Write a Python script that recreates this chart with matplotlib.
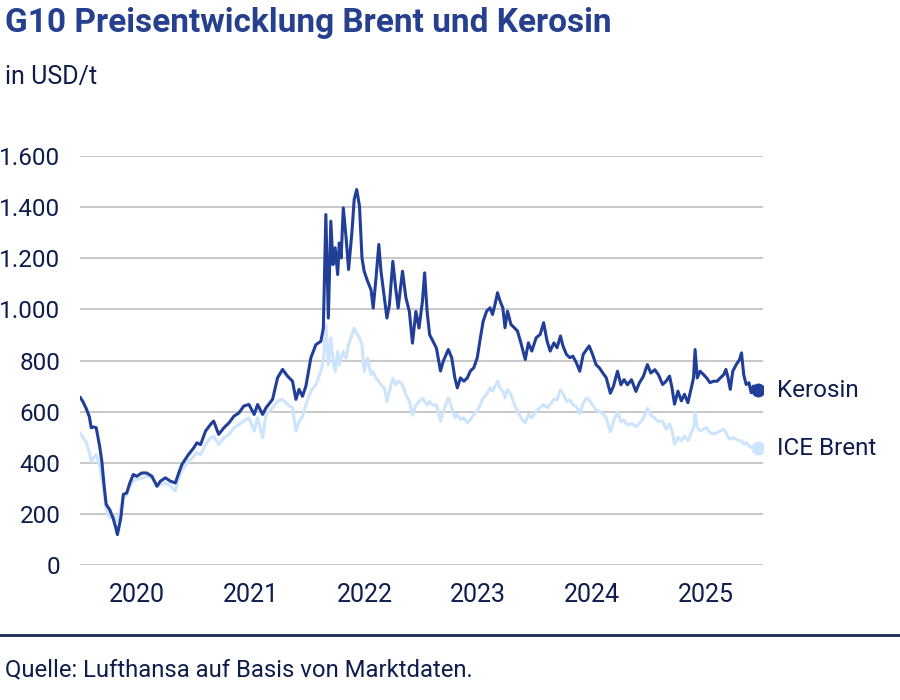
import pandas as pd
import matplotlib
matplotlib.use("Agg")
import matplotlib.pyplot as plt
from matplotlib.lines import Line2D

plt.rcParams["font.family"] = ["Roboto", "DejaVu Sans"]

# Werte (USD/t)
daten = [
    "2020-01-02", "2020-01-10", "2020-01-21", "2020-01-31", "2020-02-06", "2020-02-14", "2020-02-22",
    "2020-03-04", "2020-03-11", "2020-03-18", "2020-03-25", "2020-04-05", "2020-04-16", "2020-04-24",
    "2020-04-30", "2020-05-11", "2020-05-19", "2020-05-30", "2020-06-09", "2020-06-20", "2020-07-01",
    "2020-07-17", "2020-08-02", "2020-08-19", "2020-09-04", "2020-09-15", "2020-10-01", "2020-10-17",
    "2020-11-02", "2020-11-13", "2020-11-23", "2020-12-14", "2020-12-31", "2021-01-10",
    "2021-01-22", "2021-02-07", "2021-02-23", "2021-03-05", "2021-03-21", "2021-04-07", "2021-04-23",
    "2021-05-09", "2021-05-25", "2021-06-10", "2021-06-26", "2021-07-13", "2021-07-24", "2021-08-09",
    "2021-08-20", "2021-09-10", "2021-09-26", "2021-10-12", "2021-10-28", "2021-11-13", "2021-11-24",
    "2021-12-04", "2021-12-15", "2021-12-26", "2022-01-11",
    "2022-01-27", "2022-02-12", "2022-02-20", "2022-02-28", "2022-03-08", "2022-03-16", "2022-03-23",
    "2022-03-30", "2022-04-07", "2022-04-12", "2022-04-18", "2022-04-25", "2022-05-04", "2022-05-12",
    "2022-05-23", "2022-05-30", "2022-06-07", "2022-06-16", "2022-06-24", "2022-07-01", "2022-07-12",
    "2022-07-23", "2022-07-30", "2022-08-08", "2022-08-17", "2022-08-24", "2022-09-04", "2022-09-12",
    "2022-09-20", "2022-10-01", "2022-10-10", "2022-10-18", "2022-11-01", "2022-11-12", "2022-11-23",
    "2022-12-03", "2022-12-14", "2022-12-24", "2023-01-04", "2023-01-11", "2023-01-19", "2023-01-27",
    "2023-02-07", "2023-02-18",
    "2023-03-03", "2023-03-12", "2023-03-28", "2023-04-08", "2023-04-18", "2023-04-26", "2023-05-06",
    "2023-05-17", "2023-05-28", "2023-06-07", "2023-06-18", "2023-06-29", "2023-07-09", "2023-07-18",
    "2023-07-29", "2023-08-09", "2023-08-17", "2023-08-25", "2023-09-02", "2023-09-10", "2023-09-19",
    "2023-09-26", "2023-10-04", "2023-10-15", "2023-10-26", "2023-11-05", "2023-11-16", "2023-11-30",
    "2023-12-10", "2023-12-21", "2024-01-04", "2024-01-17", "2024-01-28", "2024-02-08", "2024-02-18",
    "2024-03-01",
    "2024-03-11", "2024-03-22", "2024-03-30", "2024-04-10", "2024-04-21", "2024-05-01", "2024-05-12",
    "2024-05-23", "2024-06-03", "2024-06-14", "2024-06-22", "2024-07-03", "2024-07-14", "2024-07-25",
    "2024-08-05", "2024-08-16", "2024-08-29", "2024-09-08", "2024-09-21", "2024-10-02", "2024-10-12",
    "2024-10-23", "2024-11-05", "2024-11-19", "2024-11-30", "2024-12-13", "2024-12-26", "2025-01-06",
    "2025-01-19", "2025-01-30",
    "2025-02-13", "2025-02-24", "2025-03-07", "2025-03-15", "2025-03-23", "2025-04-03", "2025-04-14",
    "2025-04-24", "2025-05-05", "2025-05-16", "2025-05-23", "2025-05-28", "2025-06-04", "2025-06-13",
    "2025-06-24", "2025-07-04", "2025-07-15", "2025-07-26", "2025-08-07", "2025-08-17", "2025-08-28",
    "2025-09-04", "2025-09-11", "2025-09-18", "2025-09-26", "2025-10-07", "2025-10-18", "2025-10-24",
    "2025-10-31", "2025-11-08", "2025-11-17", "2025-11-24", "2025-12-01", "2025-12-15",
]

kerosin = [
    655, 640, 612, 580, 537, 540, 537,
    465, 406, 315, 237, 217, 184, 150,
    119, 184, 276, 282, 321, 354, 347,
    360, 360, 347, 308, 328, 341, 328,
    321, 360, 393, 432, 458, 478,
    471, 524, 550, 563, 511, 537, 556,
    582, 595, 622, 628, 589, 628, 589,
    615, 648, 732, 765, 739, 719, 648,
    687, 660, 700, 811,
    862, 875, 927, 1371, 966, 1345, 1175,
    1241, 1136, 1260, 1201, 1397, 1280, 1156,
    1306, 1430, 1469, 1404, 1201, 1149, 1110,
    1077, 1005, 1123, 1254, 1149, 1045, 966,
    1018, 1188, 1084, 1005, 1149, 1045, 992,
    868, 992, 927, 1031, 1143, 992, 901,
    875, 848,
    759, 798, 843, 811, 732, 693, 732,
    719, 732, 759, 772, 811, 889, 954,
    993, 1006, 980, 1020, 1065, 1033, 1006,
    928, 993, 941, 928, 915, 869, 804,
    869, 837, 889, 902, 948, 876, 837,
    869,
    850, 896, 857, 824, 811, 817, 791,
    758, 824, 843, 857, 824, 784, 771,
    751, 732, 672, 699, 758, 705, 725,
    705, 725, 679, 712, 738, 784, 751,
    764, 745,
    706, 719, 739, 693, 629, 680, 642,
    668, 635, 693, 732, 843, 732, 758,
    745, 732, 713, 719, 719, 732, 745,
    765, 732, 687, 758, 784, 804, 830,
    745, 706, 713, 674, 700, 683,
]

brent = [
    515, 500, 480, 440, 405, 420, 432,
    390, 340, 290, 215, 184, 197, 180,
    171, 224, 262, 276, 310, 328, 334,
    340, 347, 341, 308, 315, 321, 310,
    289, 340, 370, 405, 425, 440,
    432, 471, 498, 504, 471, 498, 511,
    537, 550, 563, 576, 524, 576, 498,
    589, 615, 641, 648, 628, 615, 524,
    560, 580, 628, 680,
    705, 757, 800, 940, 783, 888, 800,
    757, 835, 783, 810, 835, 809, 862,
    901, 927, 905, 888, 862, 757, 809,
    744, 757, 730, 718, 705, 692, 639,
    679, 731, 705, 720, 705, 666, 640,
    587, 626, 639, 652, 640, 626, 639,
    626, 626,
    563, 602, 654, 615, 576, 589, 569,
    576, 556, 569, 589, 602, 628, 654,
    667, 693, 680, 700, 719, 693, 680,
    654, 687, 667, 628, 602, 576, 556,
    589, 576, 602, 615, 628, 615, 628,
    648,
    646, 686, 672, 639, 646, 626, 620,
    593, 633, 653, 646, 626, 607, 600,
    593, 574, 521, 561, 600, 561, 567,
    547, 554, 541, 554, 574, 613, 587,
    574, 561,
    563, 531, 551, 525, 473, 499, 486,
    505, 486, 518, 538, 597, 538, 525,
    531, 538, 518, 512, 518, 525, 531,
    518, 499, 492, 499, 492, 486, 486,
    473, 479, 466, 460, 466, 457,
]

jahre = [2020, 2021, 2022, 2023, 2024, 2025]
y_ticks = [0, 200, 400, 600, 800, 1000, 1200, 1400, 1600]

farbe_kerosin = "#213e98"
farbe_brent = "#cde4fd"
farbe_titel = "#26408f"
farbe_text = "#0e1d4c"

x = pd.to_datetime(daten)

fig = plt.figure(figsize=(9, 7), dpi=100)
ax = fig.add_axes([80 / 900, 135 / 700, 683 / 900, 409 / 700])

ax.plot(x, brent, color=farbe_brent, lw=2.2, zorder=3)
ax.plot(x, kerosin, color=farbe_kerosin, lw=2.2, zorder=4)
ax.plot(x[-1], brent[-1], "o", color=farbe_brent, ms=9, zorder=5)
ax.plot(x[-1], kerosin[-1], "o", color=farbe_kerosin, ms=9, zorder=5)

ax.annotate("Kerosin", xy=(x[-1], kerosin[-1]), xytext=(14, 0), textcoords="offset points",
            va="center", ha="left", fontsize=17.5, color=farbe_text, annotation_clip=False)
ax.annotate("ICE Brent", xy=(x[-1], brent[-1]), xytext=(14, 0), textcoords="offset points",
            va="center", ha="left", fontsize=17.5, color=farbe_text, annotation_clip=False)

ax.set_xlim(pd.Timestamp("2020-01-01"), pd.Timestamp("2026-01-01"))
ax.set_ylim(0, 1600)

ax.set_yticks(y_ticks)
ax.set_yticklabels([f"{v:,}".replace(",", ".") for v in y_ticks])
ax.set_xticks([pd.Timestamp(f"{j}-01-01") for j in jahre])
ax.set_xticklabels([])
ax.set_xticks([pd.Timestamp(f"{j}-07-02") for j in jahre], minor=True)
ax.set_xticklabels([str(j) for j in jahre], minor=True)

ax.tick_params(axis="y", length=0, pad=14, labelsize=17.5, labelcolor=farbe_text)
ax.tick_params(axis="x", which="both", length=0, pad=13, labelsize=18, labelcolor=farbe_text)

ax.grid(axis="y", color="#c4c4c4", lw=1.3)
ax.set_axisbelow(True)
for s in ax.spines.values():
    s.set_visible(False)

fig.text(5 / 900, 1 - 32 / 700, "G10 Preisentwicklung Brent und Kerosin", fontsize=24,
         fontweight="bold", color=farbe_titel, va="baseline", ha="left")
fig.text(5 / 900, 1 - 84 / 700, "in USD/t", fontsize=18, color=farbe_text, va="baseline", ha="left")

fig.add_artist(Line2D([0, 1], [1 - 635 / 700, 1 - 635 / 700], color="#1b2a5c", lw=2,
                      transform=fig.transFigure))
fig.text(5 / 900, 1 - 676 / 700, "Quelle: Lufthansa auf Basis von Marktdaten.", fontsize=17.2,
         color=farbe_text, va="baseline", ha="left")

fig.savefig("out.png", dpi=100)
